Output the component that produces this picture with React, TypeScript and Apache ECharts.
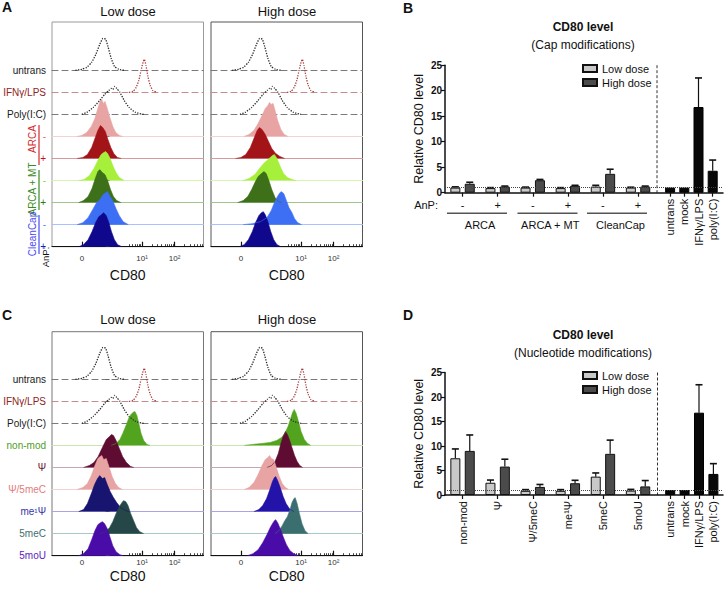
import React, { useEffect, useRef } from "react";
import * as echarts from "echarts";

const FONT = "'Liberation Sans', Arial, Helvetica, sans-serif";

// ===== Flow cytometry histograms: [display position in decades (10^1 -> 1, 10^2 -> 2), relative count]
// controls (shared by panels A and C)
const untransLow = [[-1.05,0],[-0.85,1],[-0.7,3],[-0.55,8],[-0.42,16],[-0.3,26],[-0.2,32],[-0.12,31],[-0.05,24],[0.05,12],[0.15,4],[0.28,1],[0.45,0]];
const ifnLow = [[0.6,0],[0.72,1],[0.82,5],[0.9,12],[0.97,22],[1.03,30],[1.07,33],[1.12,27],[1.18,16],[1.25,7],[1.33,2],[1.45,0]];
const polyLow = [[-0.85,0],[-0.7,2],[-0.5,7],[-0.3,14],[-0.15,20],[-0.02,24],[0.05,26],[0.1,25],[0.16,28],[0.22,26],[0.32,22],[0.45,14],[0.6,7],[0.8,2],[1.05,0]];
const untransHigh = [[-1.12,0],[-0.92,1],[-0.77,3],[-0.62,8],[-0.49,16],[-0.37,26],[-0.27,32],[-0.19,31],[-0.12,24],[-0.02,12],[0.08,4],[0.21,1],[0.38,0]];
const ifnHigh = [[0.57,0],[0.69,1],[0.79,5],[0.87,12],[0.94,22],[1.0,30],[1.04,33],[1.09,27],[1.15,16],[1.22,7],[1.3,2],[1.42,0]];
const polyHigh = [[-0.88,0],[-0.72,2],[-0.52,7],[-0.32,14],[-0.17,20],[-0.04,24],[0.03,26],[0.07,25],[0.12,28],[0.19,26],[0.29,22],[0.42,14],[0.57,7],[0.77,2],[1.0,0]];
// panel A, cap modifications
const arcaMinusLow = [[-1.0,0],[-0.85,1],[-0.7,4],[-0.56,10],[-0.45,18],[-0.36,28],[-0.29,35],[-0.24,37],[-0.19,33],[-0.14,35],[-0.07,28],[0.01,19],[0.1,10],[0.19,4],[0.3,1],[0.4,0]];
const arcaPlusLow = [[-1.0,0],[-0.82,1],[-0.68,4],[-0.55,11],[-0.45,20],[-0.36,28],[-0.28,33],[-0.21,31],[-0.13,27],[-0.05,19],[0.04,11],[0.13,5],[0.24,1],[0.36,0]];
const mtMinusLow = [[-0.95,0],[-0.78,1],[-0.62,5],[-0.48,12],[-0.36,20],[-0.26,26],[-0.18,28],[-0.12,29],[-0.06,27],[0.02,22],[0.1,15],[0.2,8],[0.3,3],[0.45,0]];
const mtPlusLow = [[-0.95,0],[-0.8,2],[-0.66,6],[-0.54,14],[-0.44,24],[-0.36,31],[-0.3,33],[-0.22,30],[-0.14,28],[-0.06,22],[0.03,13],[0.12,6],[0.22,2],[0.35,0]];
const cleanMinusLow = [[-1.0,0],[-0.82,2],[-0.66,7],[-0.52,15],[-0.4,22],[-0.3,25],[-0.2,30],[-0.12,32],[-0.06,33],[0.02,28],[0.1,24],[0.2,16],[0.3,9],[0.42,3],[0.58,0]];
const cleanPlusLow = [[-0.95,0],[-0.8,2],[-0.66,7],[-0.54,15],[-0.43,24],[-0.33,30],[-0.25,32],[-0.18,34],[-0.1,31],[-0.02,24],[0.06,15],[0.15,7],[0.25,2],[0.38,0]];
const arcaMinusHigh = [[-0.75,0],[-0.6,2],[-0.45,6],[-0.32,13],[-0.2,21],[-0.1,28],[-0.02,31],[0.03,34],[0.08,32],[0.14,33],[0.2,26],[0.28,16],[0.38,7],[0.48,2],[0.6,0]];
const arcaPlusHigh = [[-1.02,0],[-0.85,1],[-0.7,4],[-0.56,11],[-0.45,20],[-0.35,28],[-0.28,31],[-0.2,29],[-0.1,24],[0.0,17],[0.1,10],[0.22,5],[0.35,2],[0.5,0]];
const mtMinusHigh = [[-0.78,0],[-0.6,2],[-0.42,6],[-0.28,12],[-0.15,17],[-0.05,20],[0.05,23],[0.12,25],[0.18,26],[0.26,22],[0.36,14],[0.46,7],[0.58,3],[0.72,1],[0.85,0]];
const mtPlusHigh = [[-0.95,0],[-0.78,2],[-0.64,6],[-0.52,13],[-0.42,20],[-0.32,26],[-0.22,29],[-0.14,31],[-0.07,29],[0.01,22],[0.1,13],[0.2,5],[0.3,1],[0.4,0]];
const cleanMinusHigh = [[-0.78,0],[-0.5,1],[-0.25,3],[-0.05,7],[0.08,14],[0.18,22],[0.27,28],[0.35,32],[0.4,33],[0.47,31],[0.55,24],[0.63,17],[0.72,12],[0.8,6],[0.9,2],[1.02,0]];
const cleanPlusHigh = [[-0.9,0],[-0.75,2],[-0.62,7],[-0.5,15],[-0.4,24],[-0.3,31],[-0.22,34],[-0.16,35],[-0.1,32],[-0.02,25],[0.07,15],[0.16,7],[0.26,2],[0.38,0]];
// panel C, nucleotide modifications
const nonModLow = [[0.05,0],[0.2,2],[0.32,6],[0.42,13],[0.52,21],[0.6,28],[0.66,31],[0.72,33],[0.78,34],[0.84,30],[0.9,22],[0.97,12],[1.05,5],[1.15,1],[1.25,0]];
const psiLow = [[-0.8,0],[-0.62,2],[-0.48,5],[-0.35,11],[-0.22,20],[-0.1,28],[0.0,31],[0.06,33],[0.12,32],[0.2,27],[0.3,19],[0.4,11],[0.52,5],[0.65,1],[0.75,0]];
const psi5meCLow = [[-1.0,0],[-0.82,2],[-0.68,6],[-0.56,14],[-0.45,24],[-0.36,31],[-0.29,33],[-0.24,34],[-0.18,30],[-0.1,31],[-0.02,23],[0.08,13],[0.18,6],[0.28,2],[0.4,0]];
const me1PsiLow = [[-0.95,0],[-0.8,2],[-0.68,8],[-0.56,18],[-0.46,27],[-0.37,33],[-0.3,36],[-0.22,33],[-0.15,34],[-0.07,27],[0.02,20],[0.12,14],[0.22,9],[0.34,4],[0.5,1],[0.6,0]];
const meCLow = [[-0.3,0],[-0.12,2],[0.0,6],[0.1,12],[0.2,20],[0.3,27],[0.38,31],[0.43,33],[0.5,32],[0.57,28],[0.65,20],[0.74,13],[0.83,6],[0.93,2],[1.05,0]];
const moULow = [[-0.95,0],[-0.8,2],[-0.66,7],[-0.55,16],[-0.45,25],[-0.36,31],[-0.28,33],[-0.22,34],[-0.15,32],[-0.07,27],[0.02,18],[0.1,10],[0.2,4],[0.32,1],[0.42,0]];
const nonModHigh = [[-0.75,0],[-0.5,1],[-0.2,2],[0.05,3],[0.25,5],[0.4,8],[0.5,12],[0.6,19],[0.68,27],[0.74,33],[0.79,36],[0.85,32],[0.92,24],[1.0,14],[1.1,6],[1.2,2],[1.3,0]];
const psiHigh = [[-0.05,0],[0.1,2],[0.2,6],[0.3,14],[0.38,24],[0.45,31],[0.52,36],[0.58,33],[0.65,27],[0.72,20],[0.8,12],[0.88,6],[0.96,2],[1.05,0]];
const psi5meCHigh = [[-0.75,0],[-0.6,2],[-0.45,7],[-0.32,15],[-0.2,24],[-0.1,30],[-0.02,32],[0.03,34],[0.09,31],[0.16,30],[0.24,22],[0.33,13],[0.42,6],[0.52,2],[0.62,0]];
const me1PsiHigh = [[-0.45,0],[-0.3,2],[-0.18,6],[-0.06,13],[0.04,22],[0.12,30],[0.18,34],[0.22,35],[0.28,31],[0.36,24],[0.45,15],[0.54,8],[0.64,3],[0.78,0]];
const meCHigh = [[0.2,0],[0.32,3],[0.42,8],[0.5,13],[0.58,17],[0.66,24],[0.72,31],[0.78,35],[0.82,36],[0.88,30],[0.95,20],[1.03,10],[1.12,3],[1.22,0]];
const moUHigh = [[-0.65,0],[-0.48,2],[-0.32,6],[-0.18,13],[-0.05,21],[0.05,28],[0.12,32],[0.18,35],[0.22,36],[0.28,33],[0.36,27],[0.45,19],[0.55,11],[0.66,5],[0.78,2],[0.92,0]];

// CD80 axis ticks (display positions) and labels
const majorTickPos = [-0.85, 1, 2];
const majorTickLabels = ["0", "10¹", "10²"];
const minorTickPos = [0.6, 0.7, 0.78, 0.85, 0.9, 0.95, 1.3, 1.48, 1.6, 1.7, 1.78, 1.85, 1.9, 1.95, 2.3, 2.48, 2.6, 2.7, 2.78, 2.85];

// row labels
const rowLabelsA = ["untrans", "IFNγ/LPS", "Poly(I:C)", "-", "+", "-", "+", "-", "+"];
const rowLabelsC = ["untrans", "IFNγ/LPS", "Poly(I:C)", "non-mod", "Ψ", "Ψ/5meC", "me¹Ψ", "5meC", "5moU"];

// ===== Bar charts
const capCategories = ["-", "+", "-", "+", "-", "+"];
const capGroups = ["ARCA", "ARCA + MT", "CleanCap"];
const capLow = [1.0, 0.9, 1.0, 0.9, 1.2, 1.0];
const capLowErrTop = [1.15, 1.0, 1.1, 1.0, 1.45, 1.08];
const capHigh = [1.75, 1.2, 2.45, 1.35, 3.7, 1.2];
const capHighErrTop = [2.05, 1.3, 2.6, 1.45, 4.6, 1.3];
const nucCategories = ["non-mod", "Ψ", "Ψ/5meC", "me¹Ψ", "5meC", "5moU"];
const nucLow = [7.5, 2.5, 0.85, 0.85, 3.75, 0.9];
const nucLowErrTop = [9.4, 3.05, 1.1, 1.1, 4.5, 1.15];
const nucHigh = [9.0, 5.8, 1.65, 2.4, 8.4, 1.75];
const nucHighErrTop = [12.25, 7.3, 2.15, 3.0, 11.2, 2.95];
const controlCategories = ["untrans", "mock", "IFNγ/LPS", "poly(I:C)"];
const controlValues = [1.0, 1.0, 16.8, 4.3];
const controlErrTop = [1.0, 1.0, 22.5, 6.4];

// ===== styles
const labelColorsA = ["#1a1a1a", "#8e2424", "#1a1a1a", "#e26a6a", "#c0141c", "#8ad43a", "#2f7614", "#5a86ff", "#1c18c8"];
const labelColorsC = ["#1a1a1a", "#8e2424", "#1a1a1a", "#4f9d1f", "#6b0f33", "#e27c7c", "#3434a8", "#3f6e6e", "#5a1ac2"];
const labelShiftA = [0, 0, 0, 0, 0, 0, 0, 0, 0];
const labelShiftC = [0, 0, 0, 0, 1, 5, 5, 6, 7];
const curveColorsA = ["#2a2a2a", "#a53a3a", "#2a2a2a", "#e8a3a3", "#a31419", "#a6f03c", "#3d7019", "#3d6ff5", "#10088c"];
const curveColorsCLow = ["#2a2a2a", "#a53a3a", "#2a2a2a", "#52a41f", "#5e0c31", "#e8a3a3", "#17156f", "#254747", "#4a0ca8"];
const curveColorsCHigh = ["#2a2a2a", "#a53a3a", "#2a2a2a", "#52a41f", "#5e0c31", "#e8a3a3", "#2313a8", "#3b6e6e", "#4a0ca8"];
const baseColorsA = ["#7a7a7a", "#c48c8c", "#7a7a7a", "#f3d2d2", "#d89a9a", "#d6f5ae", "#9fc48c", "#a9c2ff", "#111111"];
const baseColorsC = ["#7a7a7a", "#c48c8c", "#7a7a7a", "#c9e6b2", "#c8a6b6", "#f3d2d2", "#aaa4e4", "#a6c8c8", "#111111"];

const U_MIN = -1.77, U_MAX = 2.89;
const ROW_STEP = 22.05;
const ROW_H = 44;
const PANEL_W = 151.5;

function App() {
  const ref = useRef<HTMLDivElement>(null);
  useEffect(() => {
    const chart = echarts.init(ref.current!, null, { renderer: "svg" });
    const grid: any[] = [], xAxis: any[] = [], yAxis: any[] = [], series: any[] = [];
    const addGrid = (g: any) => { grid.push({ outerBoundsMode: "none", containLabel: false, ...g }); return grid.length - 1; };

    const histPanel = (left: number, top: number, firstBase: number, curves: number[][][], curveColors: string[], baseColors: string[], labels: string[] | null, labelColors: string[] | null, labelShift: number[], frameColor: string, tickMargin: number, nameGap: number) => {
      const bottom = firstBase + (curves.length - 1) * ROW_STEP;
      const gf = addGrid({ left, top, width: PANEL_W, height: bottom - top, show: true, borderColor: frameColor, borderWidth: 1, backgroundColor: "transparent" });
      xAxis.push({ gridIndex: gf, type: "value", show: false, min: U_MIN, max: U_MAX });
      yAxis.push({ gridIndex: gf, type: "value", show: false, min: 0, max: 1 });
      curves.forEach((data, i) => {
        const base = firstBase + i * ROW_STEP;
        const g = addGrid({ left, top: base - ROW_H, width: PANEL_W, height: ROW_H });
        const last = i === curves.length - 1;
        const dashed = i < 3;
        const xi = xAxis.length;
        xAxis.push({
          gridIndex: g, type: "value", min: U_MIN, max: U_MAX, position: "bottom",
          axisLine: { show: true, lineStyle: { color: baseColors[i], width: last ? 1.2 : 1, type: dashed ? [6, 4] : "solid" } },
          axisTick: last ? { show: true, inside: true, length: 5, customValues: majorTickPos, lineStyle: { color: "#111", width: 1.2 } } : { show: false },
          axisLabel: last ? {
            show: true, customValues: majorTickPos,
            formatter: (v: number) => { const k = majorTickPos.findIndex((p) => Math.abs(p - v) < 1e-6); return k >= 0 ? majorTickLabels[k] : ""; },
            fontSize: 8, color: "#333", margin: tickMargin, fontFamily: FONT,
          } : { show: false },
          splitLine: { show: false },
          name: last ? "CD80" : "", nameLocation: "middle", nameGap, nameMoveOverlap: false,
          nameTextStyle: { fontSize: 14, color: "#111", fontFamily: FONT },
        });
        if (last) {
          xAxis.push({
            gridIndex: g, type: "value", min: U_MIN, max: U_MAX, position: "bottom",
            axisLine: { show: false }, axisLabel: { show: false }, splitLine: { show: false },
            axisTick: { show: true, inside: true, length: 2.5, customValues: minorTickPos, lineStyle: { color: "#111", width: 0.8 } },
          });
        }
        const yi = yAxis.length;
        yAxis.push({
          gridIndex: g, type: "value", min: 0, max: ROW_H,
          axisLine: { show: false }, splitLine: { show: false },
          axisTick: labels ? { show: true, customValues: [0], length: 4, lineStyle: { color: "#666" } } : { show: false },
          axisLabel: labels ? {
            show: true, customValues: [0], showMinLabel: true, formatter: () => labels[i],
            color: labelColors![i], fontSize: 10, margin: 6, fontFamily: FONT,
            padding: [0, 0, 2 * labelShift[i], 0],
          } : { show: false },
        });
        series.push({
          type: "line", xAxisIndex: xi, yAxisIndex: yi, data, symbol: "none", silent: true, z: 3,
          smooth: dashed ? 0.15 : false,
          lineStyle: dashed ? { type: "dotted", width: 1.3, color: curveColors[i] } : { width: 0.6, color: curveColors[i] },
          areaStyle: dashed ? undefined : { color: curveColors[i], opacity: 1 },
        });
      });
    };

    const histA_low = [untransLow, ifnLow, polyLow, arcaMinusLow, arcaPlusLow, mtMinusLow, mtPlusLow, cleanMinusLow, cleanPlusLow];
    const histA_high = [untransHigh, ifnHigh, polyHigh, arcaMinusHigh, arcaPlusHigh, mtMinusHigh, mtPlusHigh, cleanMinusHigh, cleanPlusHigh];
    const histC_low = [untransLow, ifnLow, polyLow, nonModLow, psiLow, psi5meCLow, me1PsiLow, meCLow, moULow];
    const histC_high = [untransHigh, ifnHigh, polyHigh, nonModHigh, psiHigh, psi5meCHigh, me1PsiHigh, meCHigh, moUHigh];

    histPanel(52, 22, 70.3, histA_low, curveColorsA, baseColorsA, rowLabelsA, labelColorsA, labelShiftA, "#9a9a9a", 8, 21);
    histPanel(211, 22, 70.3, histA_high, curveColorsA, baseColorsA, null, null, labelShiftA, "#555", 8, 21);
    histPanel(52, 331.7, 379.3, histC_low, curveColorsCLow, baseColorsC, rowLabelsC, labelColorsC, labelShiftC, "#777", 3, 13);
    histPanel(211, 331.7, 379.3, histC_high, curveColorsCHigh, baseColorsC, null, null, labelShiftC, "#555", 3, 13);

    const errRender = (dx: number) => (params: any, api: any) => {
      const i = api.value(0), v = api.value(1), e = api.value(2);
      if (!(e > v)) return { type: "group", children: [] };
      const p0 = api.coord([i, v]);
      const p1 = api.coord([i, e]);
      const x = p0[0] + dx;
      return {
        type: "group",
        children: [
          { type: "line", shape: { x1: x, y1: p0[1], x2: x, y2: p1[1] }, style: { stroke: "#111", lineWidth: 1.2 } },
          { type: "line", shape: { x1: x - 3.5, y1: p1[1], x2: x + 3.5, y2: p1[1] }, style: { stroke: "#111", lineWidth: 1.6 } },
        ],
      };
    };

    const barPanel = (top: number, height: number, cats: string[], low: number[], lowErr: number[], high: number[], highErr: number[], rotate: boolean, groups: string[] | null, rightW: number) => {
      const ga = addGrid({ left: 445, top, width: 278, height });
      const ax = xAxis.length;
      xAxis.push({ gridIndex: ga, type: "value", min: 0, max: 1, axisLine: { show: true, lineStyle: { color: "#111", width: 1.5 } }, axisTick: { show: false }, axisLabel: { show: false }, splitLine: { show: false } });
      const ay = yAxis.length;
      yAxis.push({
        gridIndex: ga, type: "value", min: 0, max: 25, interval: 5,
        axisLine: { show: true, lineStyle: { color: "#111", width: 1.5 } },
        axisTick: { show: true, length: 4, lineStyle: { color: "#111", width: 1.2 } },
        axisLabel: { fontSize: 10, fontWeight: "bold", color: "#111", margin: 3, fontFamily: FONT },
        splitLine: { show: false },
        name: "Relative CD80 level", nameLocation: "middle", nameGap: 20, nameMoveOverlap: false,
        nameTextStyle: { fontSize: 12.5, color: "#111", fontFamily: FONT },
      });
      series.push({
        type: "line", xAxisIndex: ax, yAxisIndex: ay, data: [], silent: true, z: 1,
        markLine: { symbol: "none", silent: true, label: { show: false }, lineStyle: { type: "dotted", color: "#444", width: 1 }, data: [{ yAxis: 1 }] },
      });

      const gl = addGrid({ left: 445, top, width: 210.6, height });
      const lx = xAxis.length;
      xAxis.push({
        gridIndex: gl, type: "category", data: cats, position: "bottom",
        axisLine: { show: false },
        axisTick: { show: true, alignWithLabel: true, length: 4, lineStyle: { color: "#111", width: 1.2 } },
        axisLabel: { interval: 0, rotate: rotate ? 90 : 0, fontSize: 11, color: "#111", margin: rotate ? 6 : 7, fontFamily: FONT },
        splitLine: { show: false },
      });
      if (groups) {
        xAxis.push({
          gridIndex: gl, type: "category", data: groups, position: "bottom", offset: 19,
          axisLine: { show: false }, axisTick: { show: false },
          axisLabel: { interval: 0, fontSize: 11, color: "#111", margin: 8, fontFamily: FONT },
        });
      }
      const ly = yAxis.length;
      yAxis.push({ gridIndex: gl, type: "value", min: 0, max: 25, show: false });
      series.push({ name: "Low dose", type: "bar", xAxisIndex: lx, yAxisIndex: ly, data: low, barWidth: 10, barGap: "44%", silent: true, z: 2, itemStyle: { color: "#c9c9c9", borderColor: "#111", borderWidth: 1 } });
      series.push({ name: "High dose", type: "bar", xAxisIndex: lx, yAxisIndex: ly, data: high, barWidth: 10, barGap: "44%", silent: true, z: 2, itemStyle: { color: "#4b4b4b", borderColor: "#111", borderWidth: 1 } });
      series.push({ type: "custom", xAxisIndex: lx, yAxisIndex: ly, silent: true, z: 1.5, renderItem: errRender(-7.2), data: low.map((v, i) => [i, v, lowErr[i]]) });
      series.push({ type: "custom", xAxisIndex: lx, yAxisIndex: ly, silent: true, z: 1.5, renderItem: errRender(7.2), data: high.map((v, i) => [i, v, highErr[i]]) });

      const gr = addGrid({ left: 663, top, width: rightW, height });
      const rx = xAxis.length;
      xAxis.push({
        gridIndex: gr, type: "category", data: controlCategories, position: "bottom",
        axisLine: { show: false },
        axisTick: { show: true, alignWithLabel: true, length: 4, lineStyle: { color: "#111", width: 1.2 } },
        axisLabel: { interval: 0, rotate: 90, fontSize: 11, color: "#111", margin: 6, fontFamily: FONT },
      });
      const ry = yAxis.length;
      yAxis.push({ gridIndex: gr, type: "value", min: 0, max: 25, show: false });
      series.push({ name: "Controls", type: "bar", xAxisIndex: rx, yAxisIndex: ry, data: controlValues, barWidth: 10, silent: true, z: 2, itemStyle: { color: "#080808", borderColor: "#000", borderWidth: 1 } });
      series.push({ type: "custom", xAxisIndex: rx, yAxisIndex: ry, silent: true, z: 1.5, renderItem: errRender(0), data: controlValues.map((v, i) => [i, v, controlErrTop[i]]) });
    };

    barPanel(65.2, 127.5, capCategories, capLow, capLowErrTop, capHigh, capHighErrTop, false, capGroups, 56.8);
    barPanel(372.5, 122.5, nucCategories, nucLow, nucLowErrTop, nucHigh, nucHighErrTop, true, null, 57.6);

    const txt = (text: string, x: number, y: number, o: any = {}) => ({
      type: "text", x, y, rotation: o.rotation || 0, silent: true,
      style: {
        text, fill: o.color || "#111", fontSize: o.size || 12, fontWeight: o.weight || "normal", fontFamily: FONT,
        align: o.align || "center", verticalAlign: "middle", textAlign: o.align || "center", textVerticalAlign: "middle",
      },
    });
    const ln = (x1: number, y1: number, x2: number, y2: number, stroke: string, lineWidth: number, dash?: number[]) => ({
      type: "line", silent: true, shape: { x1, y1, x2, y2 }, style: { stroke, lineWidth, lineDash: dash || null },
    });
    const R = Math.PI / 2;

    const graphic = [
      txt("A", 2, 7, { size: 14, weight: "bold", align: "left" }),
      txt("B", 403, 8, { size: 14, weight: "bold", align: "left" }),
      txt("C", 2, 315, { size: 14, weight: "bold", align: "left" }),
      txt("D", 403, 315, { size: 14, weight: "bold", align: "left" }),
      txt("Low dose", 128, 11, { size: 13 }),
      txt("High dose", 287, 11, { size: 13 }),
      txt("Low dose", 128, 319, { size: 13 }),
      txt("High dose", 287, 319, { size: 13 }),
      txt("CD80 level", 583, 27, { size: 12, weight: "bold" }),
      txt("(Cap modifications)", 583, 45, { size: 12 }),
      txt("CD80 level", 583, 335, { size: 12, weight: "bold" }),
      txt("(Nucleotide modifications)", 583, 353, { size: 12 }),
      ln(39, 125, 39, 165, "#d42a2a", 1.2),
      ln(39, 170, 39, 210, "#3b8a1c", 1.2),
      ln(39, 215, 39, 254, "#4a4af2", 1.2),
      txt("ARCA", 32, 139, { size: 10, color: "#d42a2a", rotation: R }),
      txt("ARCA + MT", 32, 189, { size: 10, color: "#3b8a1c", rotation: R }),
      txt("CleanCap", 32, 234, { size: 10, color: "#4a4af2", rotation: R }),
      txt("AnP:", 45, 257, { size: 9.5, rotation: R }),
      txt("AnP:", 438, 205, { size: 11, align: "right" }),
      ln(447, 213.3, 507, 213.3, "#555", 1.5),
      ln(517.5, 213.3, 577.5, 213.3, "#555", 1.5),
      ln(587, 213.3, 647, 213.3, "#555", 1.5),
      ln(657, 65.2, 657, 192.7, "#333", 1, [3, 2]),
      ln(657.5, 372.5, 657.5, 495, "#333", 1, [3, 2]),
    ];

    const legendBase = {
      orient: "vertical", left: 577, padding: 5, itemWidth: 14, itemHeight: 7, itemGap: 3, icon: "rect", selectedMode: false,
      data: ["Low dose", "High dose"],
      textStyle: { fontSize: 11, color: "#111", fontFamily: FONT },
    };

    chart.setOption({
      animation: false,
      backgroundColor: "#ffffff",
      textStyle: { fontFamily: FONT },
      legend: [{ ...legendBase, top: 58 }, { ...legendBase, top: 365 }],
      grid, xAxis, yAxis, series, graphic,
    });
    return () => chart.dispose();
  }, []);
  return <div ref={ref} style={{ position: "absolute", left: 0, top: 0, width: 725, height: 590 }} />;
}

export default App;
